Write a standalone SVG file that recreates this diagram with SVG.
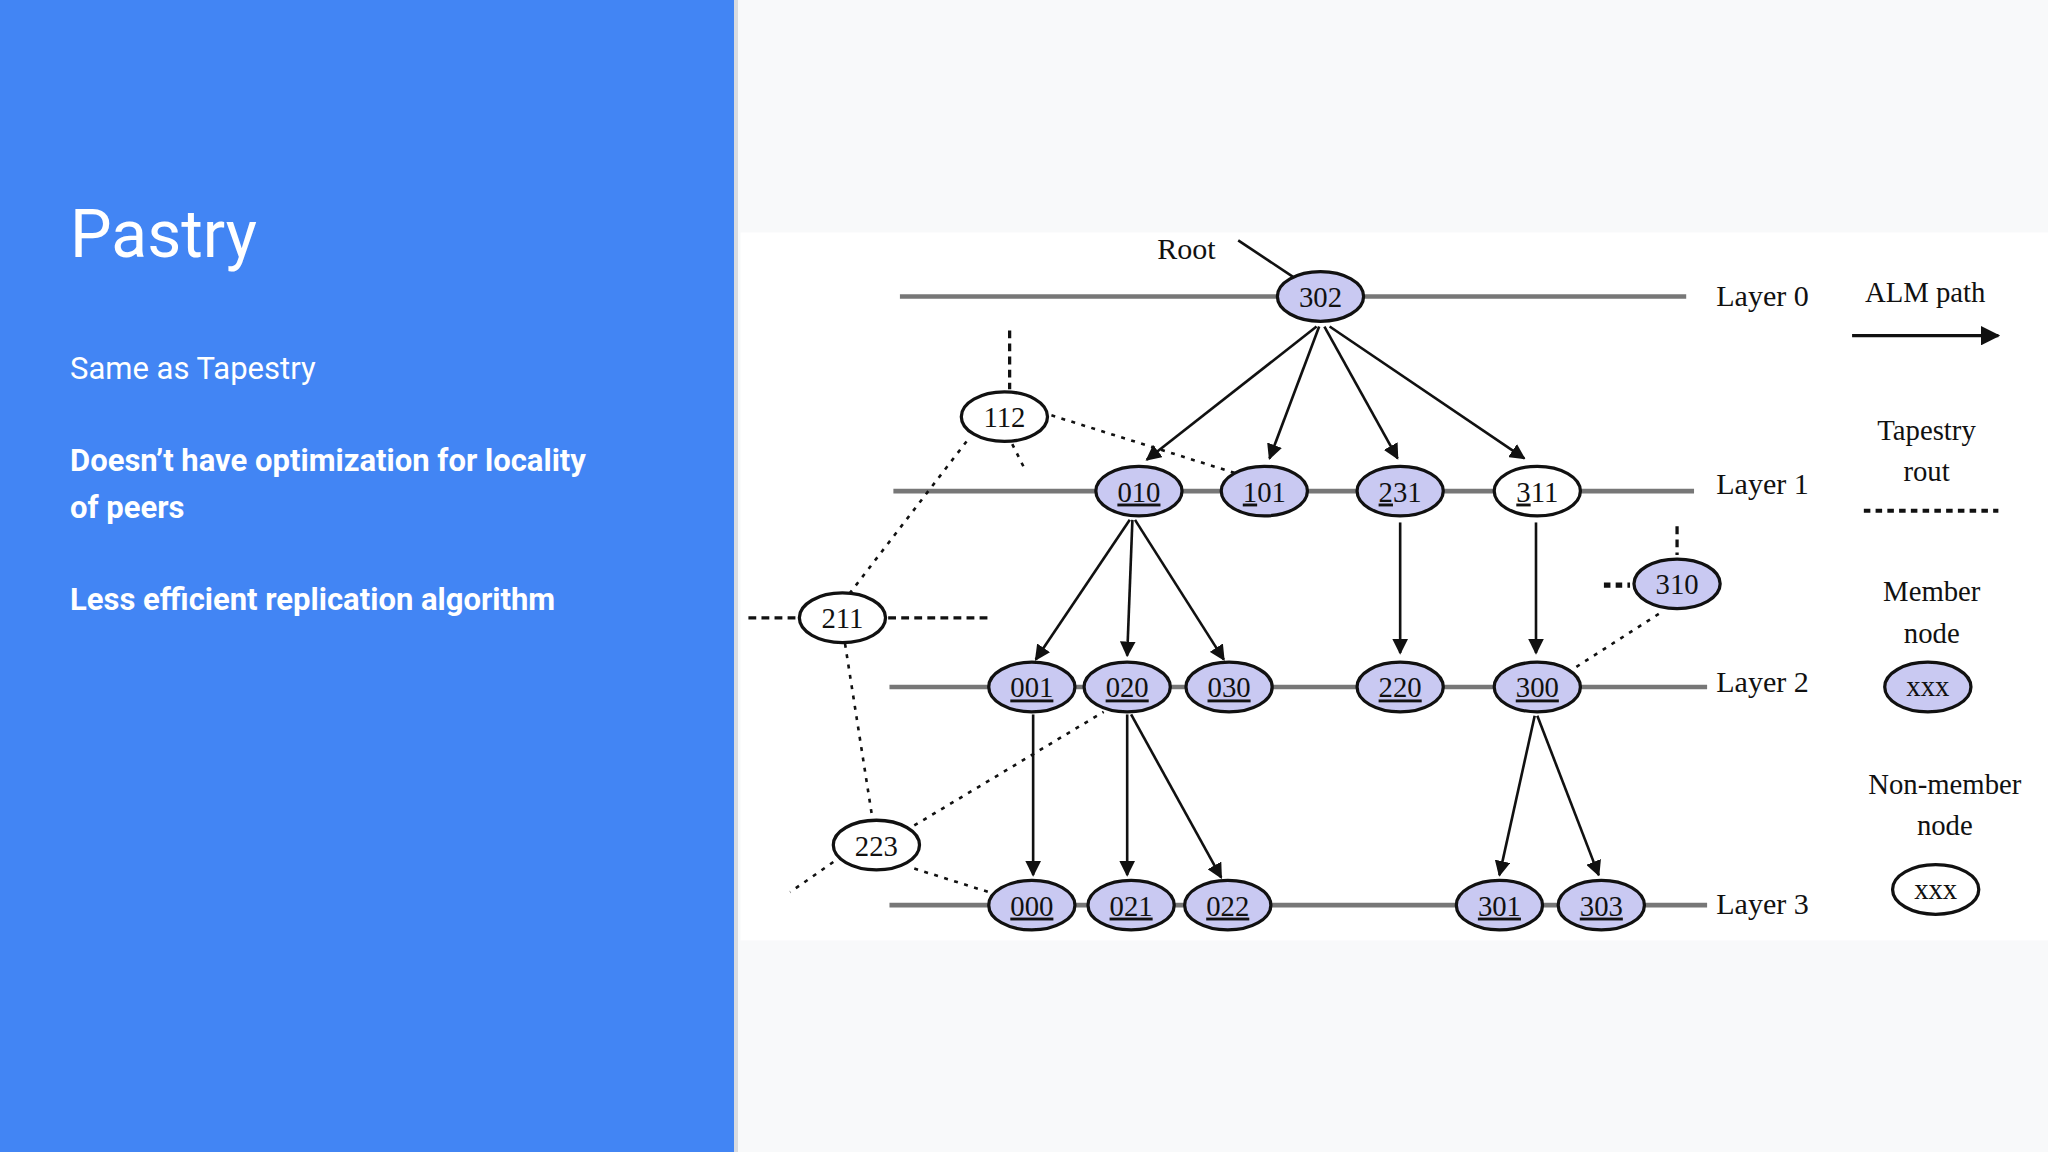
<svg xmlns="http://www.w3.org/2000/svg" width="2048" height="1152" viewBox="0 0 2048 1152">
<defs>
<style>
.t{font-family:Roboto,"Liberation Sans",sans-serif;fill:#fff}
.s{font-family:"Liberation Serif",serif;font-size:23px;fill:#111}
.n{font-family:"Liberation Serif",serif;font-size:22px;fill:#111;text-anchor:middle}
.m{fill:#c9c9f2;stroke:#111;stroke-width:2.5}
.w{fill:#fff;stroke:#111;stroke-width:2.5}
.ly{stroke:#777;stroke-width:3.5;fill:none}
.a{stroke:#111;stroke-width:2;fill:none;marker-end:url(#ah)}
.d{stroke:#111;stroke-width:2;fill:none;stroke-dasharray:3 5}
.dd{stroke:#111;stroke-width:2.5;fill:none;stroke-dasharray:6 4}
</style>
<marker id="ah" viewBox="0 0 10 10" refX="9" refY="5" markerWidth="6" markerHeight="6" orient="auto"><path d="M0,0L10,5L0,10z" fill="#111"/></marker>
</defs>
<rect width="2048" height="1152" fill="#f8f9fa"/>
<rect width="734" height="1152" fill="#4285f4"/>
<rect x="734" width="4" height="1152" fill="#d8dbe0"/>
<text class="t" x="70" y="257" font-size="66">Pastry</text>
<text class="t" x="70" y="379" font-size="31">Same as Tapestry</text>
<text class="t" x="70" y="471" font-size="31" font-weight="bold">Doesn’t have optimization for locality</text>
<text class="t" x="70" y="518" font-size="31" font-weight="bold">of peers</text>
<text class="t" x="70" y="610" font-size="31" font-weight="bold">Less efficient replication algorithm</text>
<g transform="scale(1.306122)">
<rect x="567" y="178" width="1001" height="542" fill="#fff"/>
<g id="layers">
<line class="ly" x1="689" y1="227" x2="1291" y2="227"/>
<line class="ly" x1="684" y1="376" x2="1297" y2="376"/>
<line class="ly" x1="681" y1="526" x2="1307" y2="526"/>
<line class="ly" x1="681" y1="693" x2="1307" y2="693"/>
<text class="s" x="1314" y="234">Layer 0</text>
<text class="s" x="1314" y="378">Layer 1</text>
<text class="s" x="1314" y="530">Layer 2</text>
<text class="s" x="1314" y="700">Layer 3</text>
<text class="s" x="886" y="198">Root</text>
<line x1="948" y1="184" x2="990" y2="212" stroke="#111" stroke-width="2"/>
</g>
<g id="connectors">
<line class="a" x1="1008" y1="250" x2="878" y2="352"/>
<line class="a" x1="1010" y1="250" x2="972" y2="351"/>
<line class="a" x1="1014" y1="250" x2="1070" y2="351"/>
<line class="a" x1="1018" y1="250" x2="1167" y2="351"/>
<line class="a" x1="865" y1="398" x2="793" y2="505"/>
<line class="a" x1="867" y1="398" x2="863" y2="502"/>
<line class="a" x1="869" y1="398" x2="937" y2="505"/>
<line class="a" x1="1072" y1="400" x2="1072" y2="500"/>
<line class="a" x1="1176" y1="400" x2="1176" y2="500"/>
<line class="a" x1="791" y1="547" x2="791" y2="670"/>
<line class="a" x1="863" y1="547" x2="863" y2="670"/>
<line class="a" x1="866" y1="547" x2="935" y2="672"/>
<line class="a" x1="1175" y1="548" x2="1148" y2="670"/>
<line class="a" x1="1177" y1="548" x2="1224" y2="670"/>
<line class="dd" x1="773" y1="253" x2="773" y2="298"/>
<line class="d" x1="805" y1="318" x2="945" y2="362"/>
<line class="d" x1="775" y1="340" x2="785" y2="360"/>
<line class="d" x1="740" y1="338" x2="650" y2="455"/>
<line class="dd" x1="573" y1="473" x2="610" y2="473"/>
<line class="dd" x1="680" y1="473" x2="760" y2="473"/>
<line class="d" x1="647" y1="493" x2="668" y2="627"/>
<line class="d" x1="700" y1="665" x2="757" y2="683"/>
<line class="d" x1="638" y1="660" x2="605" y2="683"/>
<line class="d" x1="700" y1="632" x2="845" y2="545"/>
<line class="dd" x1="1284" y1="403" x2="1284" y2="425"/>
<line x1="1228" y1="448" x2="1248" y2="448" stroke="#111" stroke-width="4" stroke-dasharray="5 4"/>
<line class="d" x1="1270" y1="470" x2="1200" y2="515"/>
</g>
<g id="n302"><ellipse class="m" cx="1011" cy="227" rx="33" ry="19"/><text class="n" x="1011" y="235">302</text></g>
<g id="n010"><ellipse class="m" cx="872" cy="376" rx="33" ry="19"/><text class="n" x="872" y="384" text-decoration="underline">010</text></g>
<g id="n101"><ellipse class="m" cx="968" cy="376" rx="33" ry="19"/><text class="n" x="968" y="384"><tspan text-decoration="underline">1</tspan>01</text></g>
<g id="n231"><ellipse class="m" cx="1072" cy="376" rx="33" ry="19"/><text class="n" x="1072" y="384"><tspan text-decoration="underline">2</tspan>31</text></g>
<g id="n311"><ellipse class="w" cx="1177" cy="376" rx="33" ry="19"/><text class="n" x="1177" y="384"><tspan text-decoration="underline">3</tspan>11</text></g>
<g id="n112"><ellipse class="w" cx="769" cy="319" rx="33" ry="19"/><text class="n" x="769" y="327">112</text></g>
<g id="n211"><ellipse class="w" cx="645" cy="473" rx="33" ry="19"/><text class="n" x="645" y="481">211</text></g>
<g id="n223"><ellipse class="w" cx="671" cy="647" rx="33" ry="19"/><text class="n" x="671" y="655">223</text></g>
<g id="n310"><ellipse class="m" cx="1284" cy="447" rx="33" ry="19"/><text class="n" x="1284" y="455">310</text></g>
<g id="n001"><ellipse class="m" cx="790" cy="526" rx="33" ry="19"/><text class="n" x="790" y="534" text-decoration="underline">001</text></g>
<g id="n020"><ellipse class="m" cx="863" cy="526" rx="33" ry="19"/><text class="n" x="863" y="534" text-decoration="underline">020</text></g>
<g id="n030"><ellipse class="m" cx="941" cy="526" rx="33" ry="19"/><text class="n" x="941" y="534" text-decoration="underline">030</text></g>
<g id="n220"><ellipse class="m" cx="1072" cy="526" rx="33" ry="19"/><text class="n" x="1072" y="534" text-decoration="underline">220</text></g>
<g id="n300"><ellipse class="m" cx="1177" cy="526" rx="33" ry="19"/><text class="n" x="1177" y="534" text-decoration="underline">300</text></g>
<g id="n000"><ellipse class="m" cx="790" cy="693" rx="33" ry="19"/><text class="n" x="790" y="701" text-decoration="underline">000</text></g>
<g id="n021"><ellipse class="m" cx="866" cy="693" rx="33" ry="19"/><text class="n" x="866" y="701" text-decoration="underline">021</text></g>
<g id="n022"><ellipse class="m" cx="940" cy="693" rx="33" ry="19"/><text class="n" x="940" y="701" text-decoration="underline">022</text></g>
<g id="n301"><ellipse class="m" cx="1148" cy="693" rx="33" ry="19"/><text class="n" x="1148" y="701" text-decoration="underline">301</text></g>
<g id="n303"><ellipse class="m" cx="1226" cy="693" rx="33" ry="19"/><text class="n" x="1226" y="701" text-decoration="underline">303</text></g>
<g id="legend">
<text class="n" x="1474" y="231">ALM path</text>
<line x1="1418" y1="257" x2="1530" y2="257" stroke="#111" stroke-width="2.5" marker-end="url(#ah)"/>
<text class="n" x="1475" y="337">Tapestry</text>
<text class="n" x="1475" y="368">rout</text>
<line x1="1427" y1="391" x2="1530" y2="391" stroke="#111" stroke-width="3" stroke-dasharray="5 4"/>
<text class="n" x="1479" y="460">Member</text>
<text class="n" x="1479" y="492">node</text>
<ellipse class="m" cx="1476" cy="526" rx="33" ry="19"/><text class="n" x="1476" y="533">xxx</text>
<text class="n" x="1489" y="608">Non-member</text>
<text class="n" x="1489" y="639">node</text>
<ellipse class="w" cx="1482" cy="681" rx="33" ry="19"/><text class="n" x="1482" y="688">xxx</text>
</g>
</g>
</svg>
